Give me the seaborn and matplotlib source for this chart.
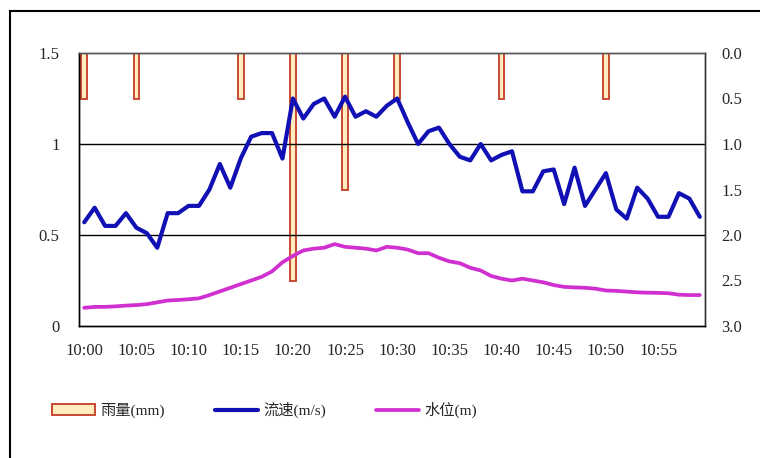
import matplotlib
matplotlib.use("Agg")
import matplotlib.pyplot as plt
from matplotlib.patches import Patch, Rectangle
from matplotlib.lines import Line2D
import seaborn as sns
import numpy as np
import pandas as pd

# data, one value per minute 10:00 - 10:59
times = ["10:%02d" % m for m in range(60)]

flow = [0.57, 0.65, 0.55, 0.55, 0.62, 0.54, 0.51, 0.43, 0.62, 0.62,
        0.66, 0.66, 0.75, 0.89, 0.76, 0.92, 1.04, 1.06, 1.06, 0.92,
        1.25, 1.14, 1.22, 1.25, 1.15, 1.26, 1.15, 1.18, 1.15, 1.21,
        1.25, 1.12, 1.00, 1.07, 1.09, 1.00, 0.93, 0.91, 1.00, 0.91,
        0.94, 0.96, 0.74, 0.74, 0.85, 0.86, 0.67, 0.87, 0.66, 0.75,
        0.84, 0.64, 0.59, 0.76, 0.70, 0.60, 0.60, 0.73, 0.70, 0.60]

level = [0.10, 0.105, 0.105, 0.108, 0.112, 0.115, 0.12, 0.13, 0.14, 0.143,
         0.147, 0.152, 0.17, 0.19, 0.21, 0.23, 0.25, 0.27, 0.30, 0.35,
         0.385, 0.415, 0.425, 0.43, 0.45, 0.435, 0.43, 0.425, 0.415, 0.435,
         0.43, 0.42, 0.40, 0.40, 0.375, 0.355, 0.345, 0.32, 0.305, 0.275,
         0.26, 0.25, 0.26, 0.25, 0.24, 0.225, 0.215, 0.212, 0.21, 0.205,
         0.195, 0.193, 0.189, 0.185, 0.183, 0.182, 0.18, 0.172, 0.17, 0.17]

rain_times = ["10:00", "10:05", "10:15", "10:20", "10:25", "10:30", "10:40", "10:50"]
rain_vals = [0.5, 0.5, 0.5, 2.5, 1.5, 0.5, 0.5, 0.5]

rain = [0.0] * 60
for t, v in zip(rain_times, rain_vals):
    rain[times.index(t)] = v

df = pd.DataFrame({"time": times, "idx": np.arange(60), "flow": flow,
                   "level": level, "rain": rain})

sns.set_style("white")
fam = ["Liberation Serif", "Noto Sans CJK SC", "DejaVu Sans"]
plt.rcParams["font.family"] = fam

BAR_FILL = "#FFEDC0"
BAR_EDGE = "#C84A32"
BLUE = "#1010B4"
MAGENTA = "#D030D0"

fig = plt.figure(figsize=(7.6, 4.58), dpi=100)
ax = fig.add_axes([79 / 760, 1 - 326 / 458, 626 / 760, 273 / 458])
ax2 = ax.twinx()

# rain bars on the right (inverted) axis
sns.barplot(data=df, x="time", y="rain", ax=ax2, order=times, width=0.55,
            color=BAR_FILL, edgecolor=BAR_EDGE, linewidth=1.4, saturation=1)
ax2.set_ylim(3.0, 0.0)
ax2.set_yticks(np.arange(0, 3.01, 0.5))
ax2.set_yticklabels(["%.1f" % v for v in np.arange(0, 3.01, 0.5)])
ax2.set_ylabel("")
ax2.set_xlabel("")

# lines on the left axis, drawn above the bars
ax.set_zorder(ax2.get_zorder() + 1)
ax.patch.set_visible(False)
sns.lineplot(data=df, x="idx", y="flow", ax=ax, color=BLUE, lw=3.0)
sns.lineplot(data=df, x="idx", y="level", ax=ax, color=MAGENTA, lw=2.7)
ax.set_ylim(0, 1.5)
ax.set_yticks([0, 0.5, 1, 1.5])
ax.set_yticklabels(["0", "0.5", "1", "1.5"])
ax.set_xlim(-0.5, 59.5)
ax2.set_xlim(-0.5, 59.5)
ax.set_xlabel("")
ax.set_ylabel("")
for y in [0.5, 1.0]:
    ax.axhline(y, color="black", lw=1, zorder=0)

ax.set_xticks(np.arange(0, 60, 5))
ax.set_xticklabels(times[::5])
ax.set_xticks(np.arange(-0.5, 60, 1), minor=True)
ax.tick_params(axis="x", which="major", length=0, pad=12, labelsize=12)
ax.tick_params(axis="x", which="minor", direction="in", length=4, width=0.8, color="black")
ax.tick_params(axis="y", length=0, pad=14, labelsize=12)
ax2.tick_params(axis="y", length=0, pad=12, labelsize=12)
ax2.tick_params(axis="x", length=0, labelbottom=False)

for a in (ax, ax2):
    a.spines["left"].set_color("black")
    a.spines["bottom"].set_color("black")
    a.spines["top"].set_color("#555555")
    a.spines["right"].set_color("#333333")
    for s in a.spines.values():
        s.set_linewidth(1)

handles = [Patch(facecolor=BAR_FILL, edgecolor=BAR_EDGE, lw=1.4),
           Line2D([], [], color=BLUE, lw=3.0),
           Line2D([], [], color=MAGENTA, lw=2.7)]
labels = ["雨量(mm)", "流速(m/s)", "水位(m)"]
fig.legend(handles, labels, loc="center left", bbox_to_anchor=(38 / 760, 1 - 410 / 458),
           ncol=3, frameon=False, fontsize=11, handlelength=2.8, handleheight=0.7,
           handletextpad=0.35, columnspacing=3.3)

# outer chart border (cropped on right and bottom)
fig.patches.append(Rectangle((9.5 / 760, -0.1), 1.2, 1 - 11 / 458 + 0.1,
                             transform=fig.transFigure, fill=False,
                             edgecolor="black", lw=1.5))

fig.savefig("out.png", dpi=100)
